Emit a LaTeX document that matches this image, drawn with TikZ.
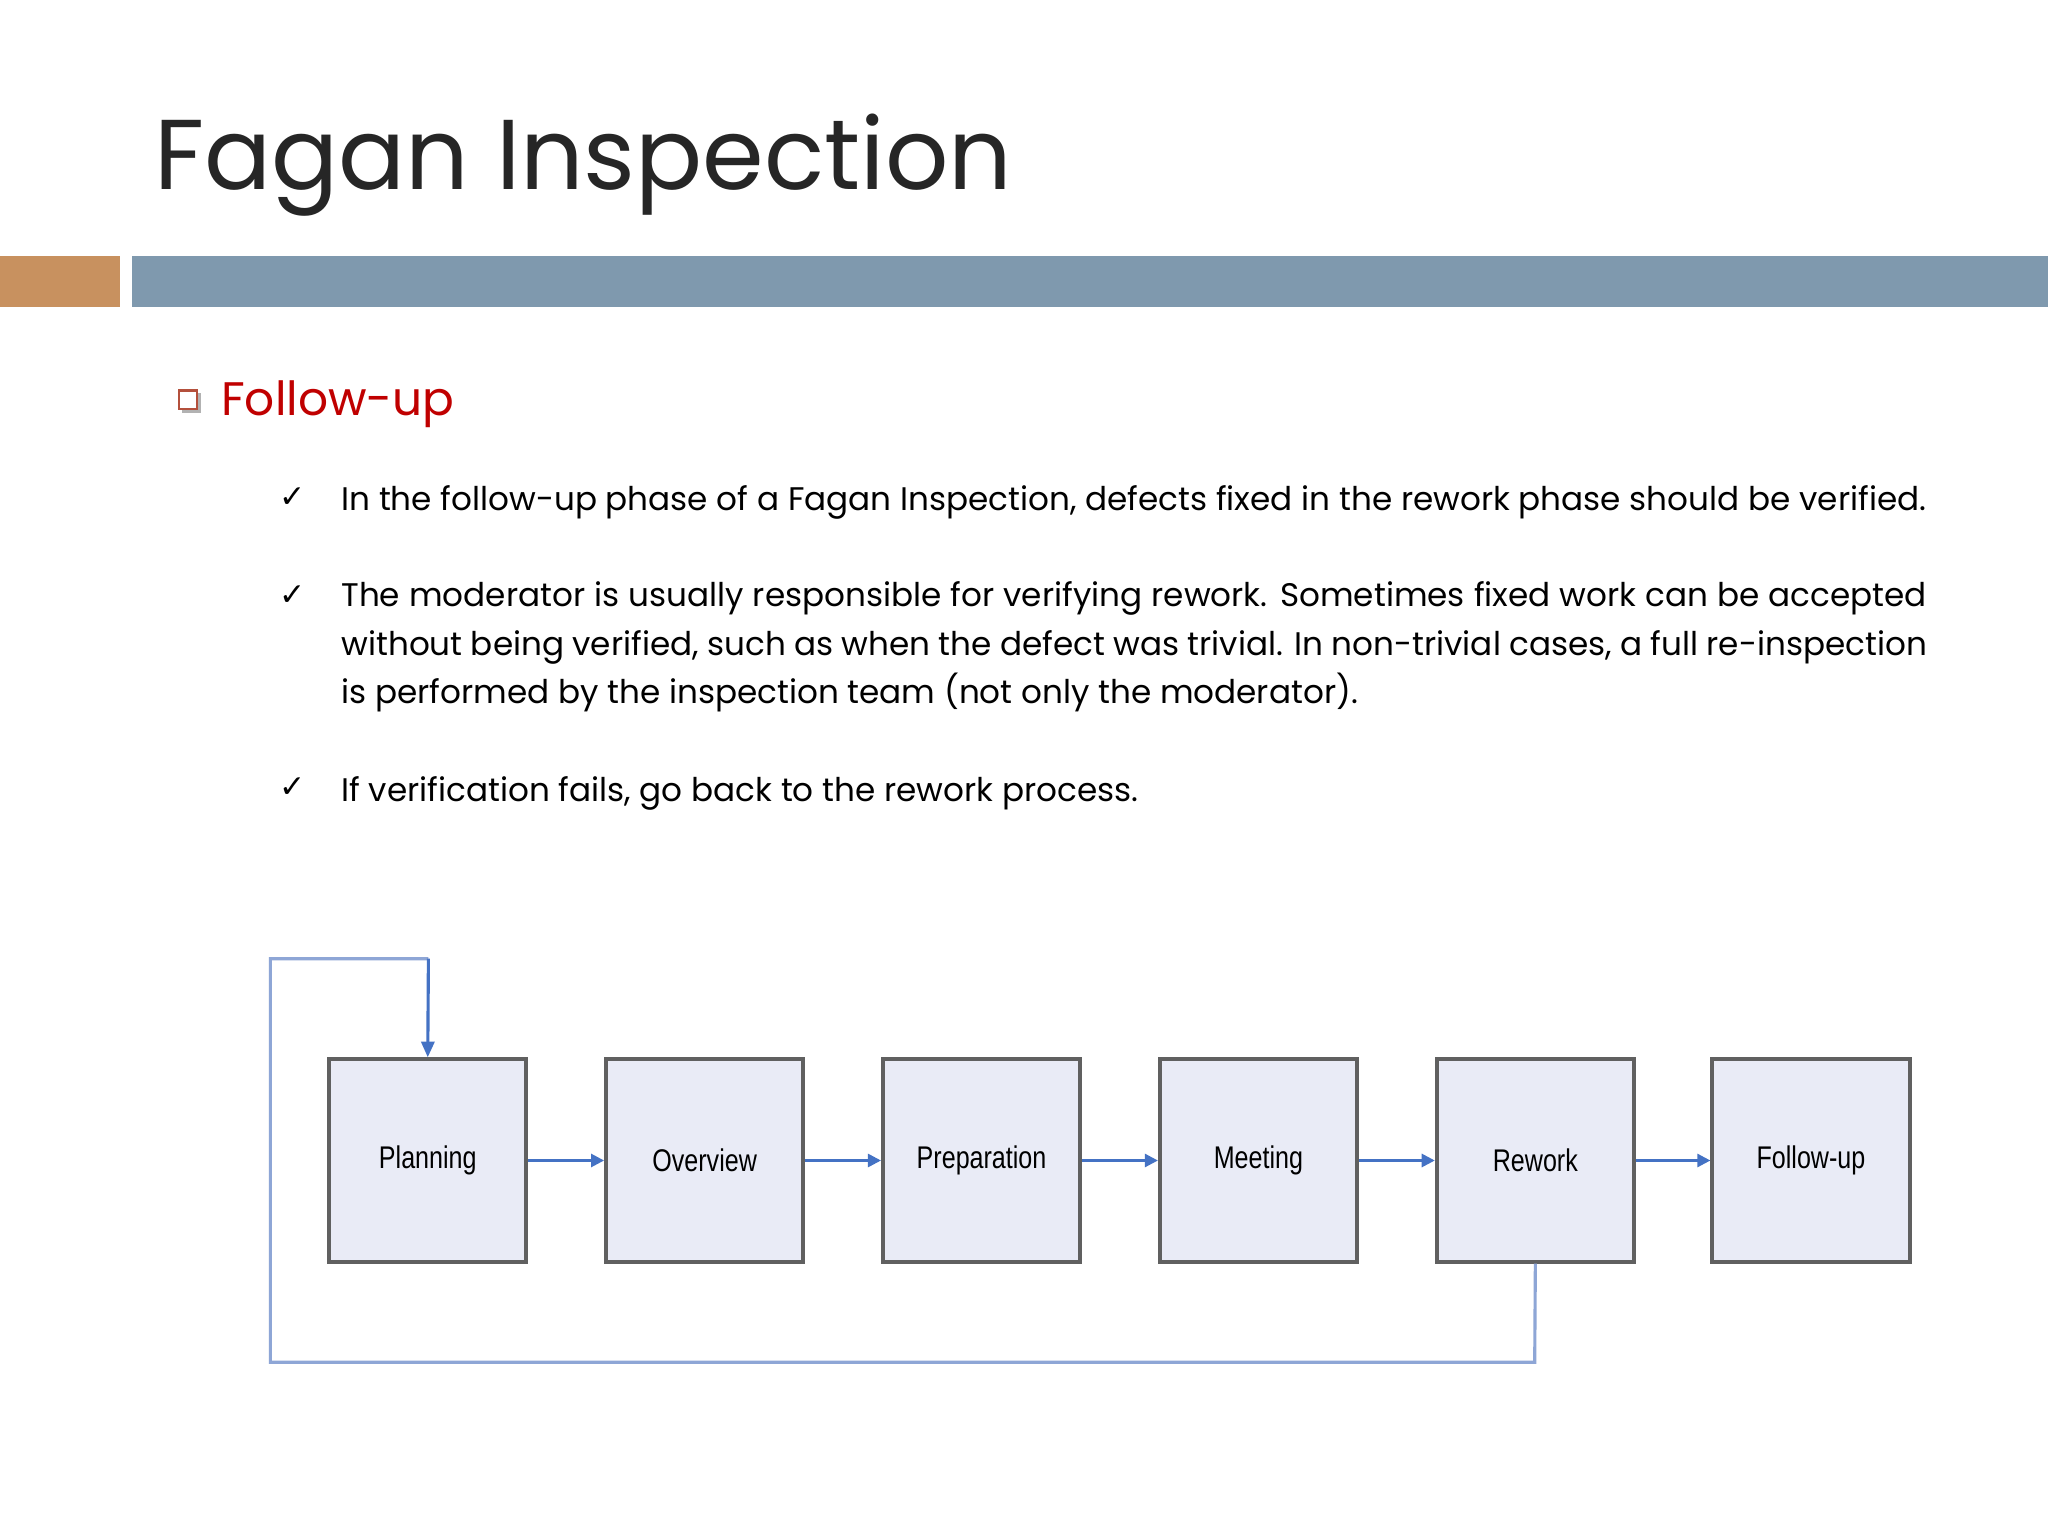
\documentclass[tikz,border=0pt]{standalone}
\usepackage{fontspec}
\setmainfont{Poppins}
\newfontfamily\boxfont{Liberation Sans}
\newfontfamily\symfont{DejaVu Sans}
\usetikzlibrary{arrows.meta}
\definecolor{loopc}{HTML}{8EA6D6}
\definecolor{arr}{HTML}{4472C4}
\definecolor{boxfill}{HTML}{E9EBF6}
\definecolor{boxline}{HTML}{606060}
\tikzset{
 stepbox/.style={draw=boxline,line width=1.5pt,fill=boxfill,minimum width=75.5pt,minimum height=77.5pt,inner sep=0pt,font=\boxfont\fontsize{12}{14}\selectfont\addfontfeature{FakeStretch=0.8}},
 flow/.style={draw=arr,line width=1pt,-{Triangle[length=5pt,width=5pt]}},
 loop/.style={draw=loopc,line width=1.2pt},
 body/.style={anchor=north west,inner sep=0pt,font=\fontsize{12.5}{18.5}\selectfont,align=justify},
 chk/.style={font=\symfont\fontsize{12}{14}\selectfont,inner sep=0pt}
}
\begin{document}
\begin{tikzpicture}[x=0.5pt,y=-0.5pt]
\useasboundingbox[fill=white] (0,0) rectangle (1568,1176);
\node[anchor=base west,inner sep=0pt,font=\fontsize{38}{40}\selectfont,text=black!85] (title) at (118,145) {Fagan Inspection};
\fill[fill={rgb,255:red,200;green,145;blue,95}] (0,196) rectangle (92,235);
\fill[fill={rgb,255:red,127;green,153;blue,174}] (101,196) rectangle (1568,235);
\fill[gray!60] (139,301) rectangle (154,316);
\draw[fill=white,draw={rgb,255:red,180;green,80;blue,60},line width=0.8pt] (137,299) rectangle (151,313);
\node[anchor=base west,inner sep=0pt,font=\fontsize{18}{20}\selectfont,text={rgb,255:red,192;green,0;blue,0}] (h) at (169,318) {Follow-up};
\node[chk] (c1) at (224,381) {✓};
\node[chk] (c2) at (224,456) {✓};
\node[chk] (c3) at (224,603) {✓};
\node[body,text width=607pt] (t1) at (261,371) {In the follow-up phase of a Fagan Inspection, defects fixed in the rework phase should be verified.};
\node[body,text width=607pt] (t2) at (261,445) {The moderator is usually responsible for verifying rework. Sometimes fixed work can be accepted without being verified, such as when the defect was trivial. In non-trivial cases, a full re-inspection is performed by the inspection team (not only the moderator).};
\node[body,text width=607pt] (t3) at (261,594) {If verification fails, go back to the rework process.};
\node[stepbox] (p) at (327.5,888.5) {Planning};
\node[stepbox] (o) at (539.5,888.5) {Overview};
\node[stepbox] (r) at (751.5,888.5) {Preparation};
\node[stepbox] (m) at (963.5,888.5) {Meeting};
\node[stepbox] (w) at (1175.5,888.5) {Rework};
\node[stepbox] (f) at (1386.5,888.5) {Follow-up};
\draw[flow] (p) -- (o);
\draw[flow] (o) -- (r);
\draw[flow] (r) -- (m);
\draw[flow] (m) -- (w);
\draw[flow] (w) -- (f);
\coordinate (a) at (1175,1043);
\coordinate (b) at (207,1043);
\coordinate (c) at (207,734);
\coordinate (d) at (328,734);
\draw[loop] (w.south) -- (a) -- (b) -- (c) -- (d);
\draw[loop,draw=arr,-{Triangle[length=6pt,width=5pt]}] (d) -- (p.north);
\end{tikzpicture}
\end{document}
